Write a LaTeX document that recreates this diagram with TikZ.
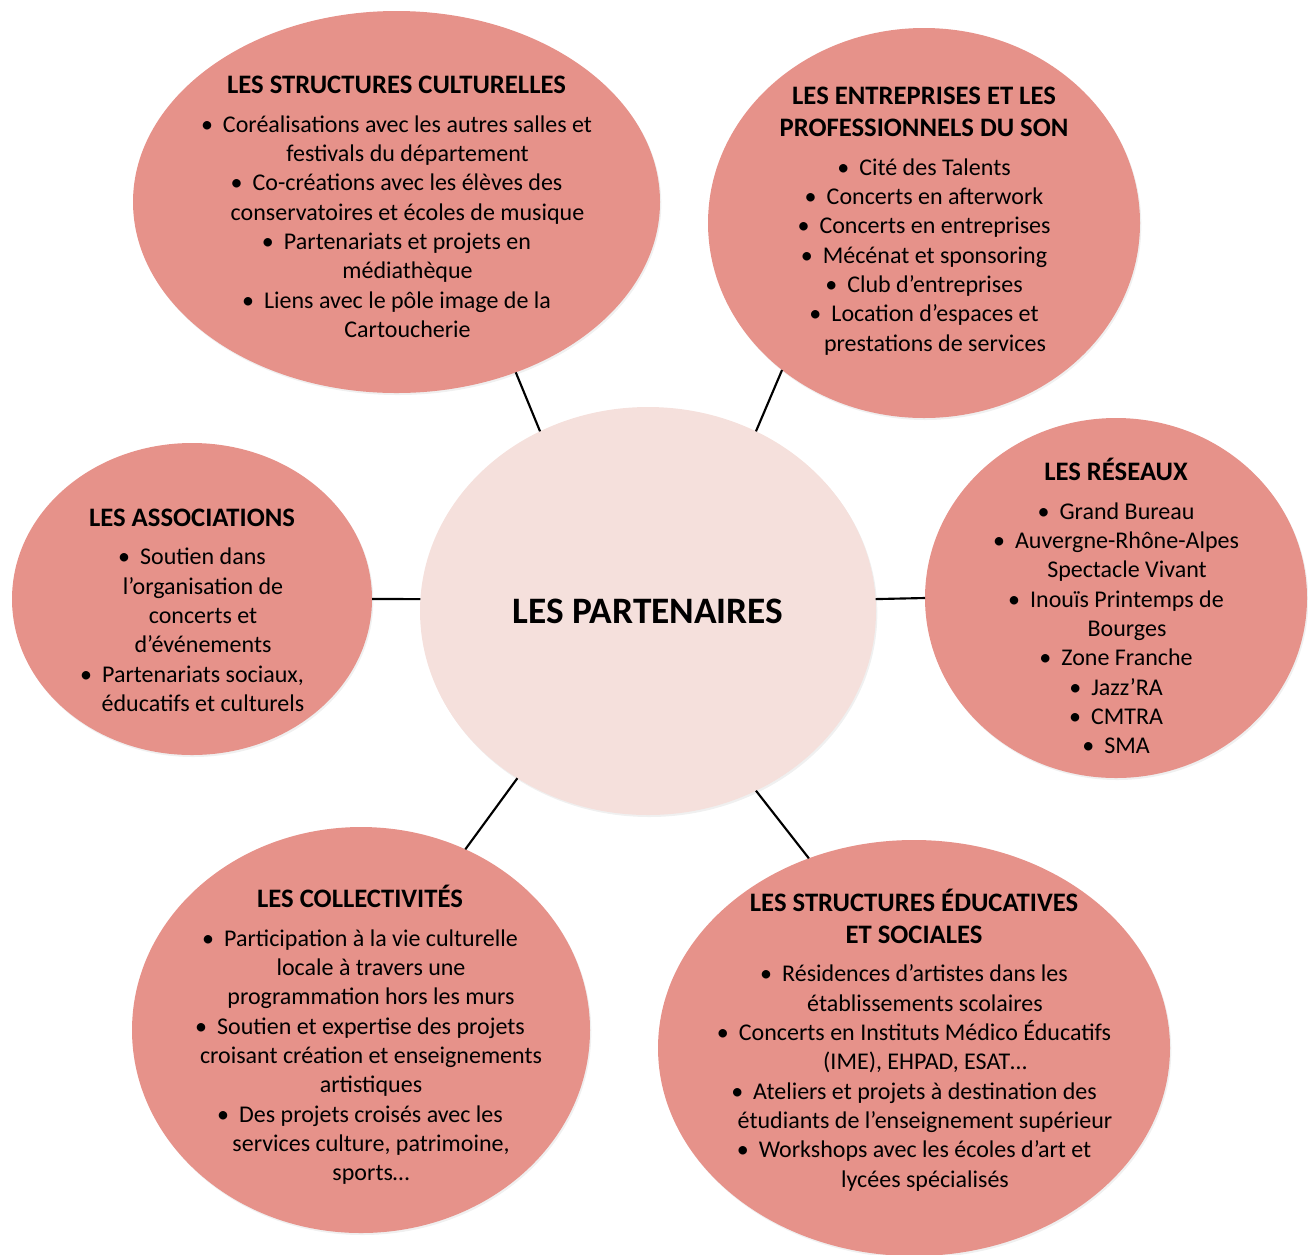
\documentclass[tikz,border=0pt]{standalone}
\usepackage{fontspec}
\setmainfont{Carlito}
\usetikzlibrary{shapes.geometric}
\usetikzlibrary{shadows}
\definecolor{partnerfill}{RGB}{230,146,138}
\definecolor{centrefill}{RGB}{245,224,220}
\newcommand{\itm}{\makebox[16.5pt][l]{\textbullet}}
\newcommand{\cont}{\hspace*{16.5pt}}
\newcommand{\ttl}[1]{{\fontsize{20}{22}\selectfont\bfseries #1}}

\begin{document}
\begin{tikzpicture}[x=0.75pt, y=-0.75pt,
  every partner/.style={ellipse, fill=partnerfill, inner sep=0pt, outer sep=0pt,
    drop shadow={opacity=0.12, shadow xshift=1pt, shadow yshift=-1.5pt}},
  every list/.style={align=center, inner sep=0pt, font=\fontsize{18}{22}\selectfont}]

\useasboundingbox (0,0) rectangle (1308,1254);

% les six partenaires autour
\foreach \n/\cx/\cy/\rx/\ry in {cult/396.5/202/263.5/191, entr/924/223/216/195,
    assoc/192/599/180/156, reseau/1116/598/191/180,
    coll/361/1030/229/203, educ/914/1048/256/208}
  \node [every partner/.try, minimum width=1.5pt*\rx, minimum height=1.5pt*\ry] (\n) at (\cx,\cy) {};

% le centre
\node [every partner/.try, fill=centrefill, minimum width=342pt, minimum height=306pt,
  font=\bfseries\fontsize{28}{32}\selectfont] (centre) at (648,611) {LES PARTENAIRES};

\foreach \n/\a/\b in {cult/121/-55, entr/59/-134, assoc/177/0,
    reseau/3/180, coll/-128/60, educ/-59/119}
  \draw [line width=1.6pt] (centre.\a) -- (\n.\b);

\node [every list/.try] (cult-text) at (396.5,207) {\ttl{LES STRUCTURES CULTURELLES}\\[7pt]
  \itm Coréalisations avec les autres salles et\\ \cont festivals du département\\
  \itm Co-créations avec les élèves des\\ \cont conservatoires et écoles de musique\\
  \itm Partenariats et projets en\\ \cont médiathèque\\
  \itm Liens avec le pôle image de la\\ \cont Cartoucherie};

\node [every list/.try] (entr-text) at (924,221) {\ttl{LES ENTREPRISES ET LES}\\[2pt]
  \ttl{PROFESSIONNELS DU SON}\\[7pt]
  \itm Cité des Talents\\ \itm Concerts en afterwork\\ \itm Concerts en entreprises\\
  \itm Mécénat et sponsoring\\ \itm Club d’entreprises\\
  \itm Location d’espaces et\\ \cont prestations de services};

\node [every list/.try] (assoc-text) at (192,610) {\ttl{LES ASSOCIATIONS}\\[7pt]
  \itm Soutien dans\\ \cont l’organisation de\\ \cont concerts et\\ \cont d’événements\\
  \itm Partenariats sociaux,\\ \cont éducatifs et culturels};

\node [every list/.try] (reseau-text) at (1116,606) {\ttl{LES RÉSEAUX}\\[7pt]
  \itm Grand Bureau\\ \itm Auvergne-Rhône-Alpes\\ \cont Spectacle Vivant\\
  \itm Inouïs Printemps de\\ \cont Bourges\\ \itm Zone Franche\\
  \itm Jazz’RA\\ \itm CMTRA\\ \itm SMA};

\node [every list/.try] (coll-text) at (360,1035) {\ttl{LES COLLECTIVITÉS}\\[7pt]
  \itm Participation à la vie culturelle\\ \cont locale à travers une\\ \cont programmation hors les murs\\
  \itm Soutien et expertise des projets\\ \cont croisant création et enseignements\\ \cont artistiques\\
  \itm Des projets croisés avec les\\ \cont services culture, patrimoine,\\ \cont sports…};

\node [every list/.try] (educ-text) at (914,1040) {\ttl{LES STRUCTURES ÉDUCATIVES}\\[2pt]
  \ttl{ET SOCIALES}\\[7pt]
  \itm Résidences d’artistes dans les\\ \cont établissements scolaires\\
  \itm Concerts en Instituts Médico Éducatifs\\ \cont (IME), EHPAD, ESAT…\\
  \itm Ateliers et projets à destination des\\ \cont étudiants de l’enseignement supérieur\\
  \itm Workshops avec les écoles d’art et\\ \cont lycées spécialisés};

\end{tikzpicture}
\end{document}
